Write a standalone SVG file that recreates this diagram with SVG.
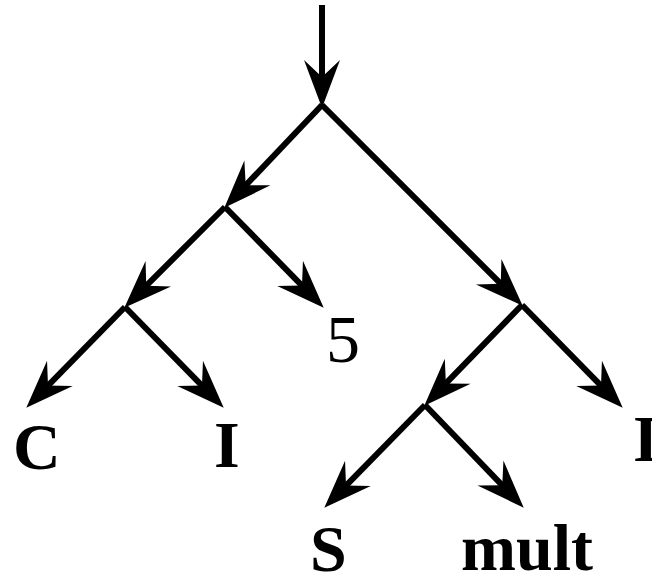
<svg xmlns="http://www.w3.org/2000/svg" width="652" height="574" viewBox="0 0 652 574">
<style>
.e{fill:none;stroke:#000;stroke-width:6;marker-end:url(#ah)}
.b{font-family:"Liberation Serif","Times New Roman",serif;font-weight:bold;font-size:66px;fill:#000}
.r{font-family:"Liberation Serif","Times New Roman",serif;font-size:68px;fill:#000}
</style>
<defs>
<marker id="ah" markerUnits="userSpaceOnUse" viewBox="-55 -20 60 40" markerWidth="60" markerHeight="40" refX="-22" refY="0" orient="auto" overflow="visible">
<path d="M1,0 L-47,-18 L-30,0 L-47,18 Z" fill="#000"/>
</marker>
</defs>
<rect width="652" height="574" fill="#fff"/>
<g id="connectors">
<path class="e" d="M322,5 L322,85"/>
<path class="e" d="M322,105 L240.2,191.1"/>
<path class="e" d="M322,105 L506.4,289.4"/>
<path class="e" d="M225,207 L307.6,291.3"/>
<path class="e" d="M225,207 L140.6,291.4"/>
<path class="e" d="M125,307 L42.4,391.3"/>
<path class="e" d="M125,307 L207.6,391.3"/>
<path class="e" d="M522,305 L440.3,389.2"/>
<path class="e" d="M522,305 L606.6,391.3"/>
<path class="e" d="M425,405 L340.4,491.3"/>
<path class="e" d="M425,405 L507.8,491.1"/>
</g>
<g id="n5"><text class="r" x="326" y="362">5</text></g>
<g id="nC"><text class="b" x="13" y="469">C</text></g>
<g id="nI"><text class="b" x="214" y="467">I</text></g>
<g id="nI2"><text class="b" x="633" y="461">I</text></g>
<g id="nS"><text class="b" x="310" y="571">S</text></g>
<g id="nmult"><text class="b" x="461" y="570">mult</text></g>
</svg>
